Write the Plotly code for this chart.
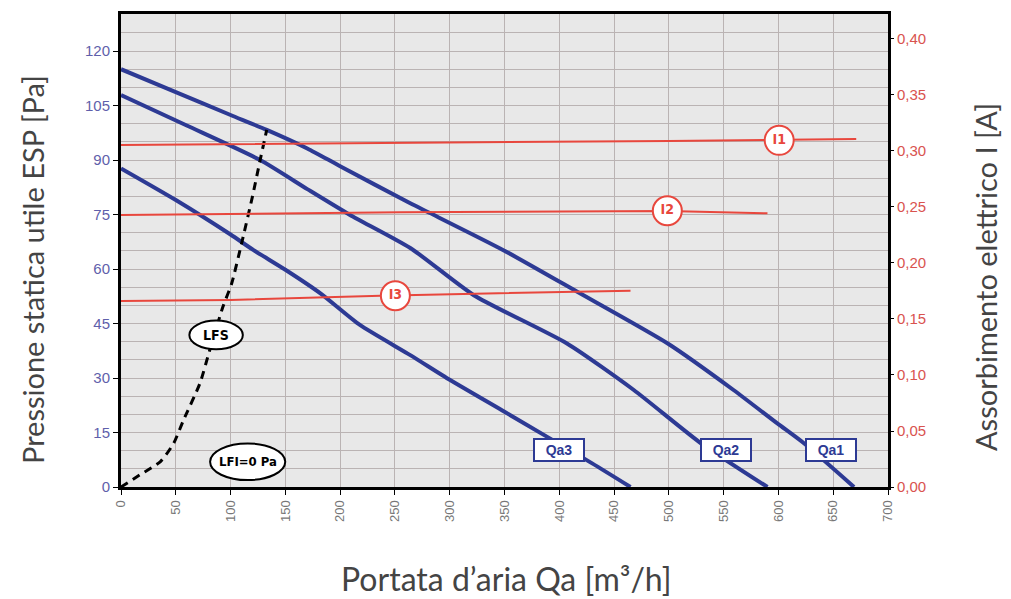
import plotly.graph_objects as go

# ---- data ----
qa1_x = [0, 50, 100, 133, 170, 200, 264, 282, 349, 416, 499, 559, 599, 623, 669]
qa1_y = [115, 108.7, 102.4, 98.3, 93.2, 88.3, 78.1, 75.4, 65.2, 53.8, 39.5, 26.7, 17.5, 12.1, 0]

qa2_x = [0, 60, 127, 170, 209, 264, 322, 407, 468, 529, 590]
qa2_y = [107.9, 99.5, 90, 82, 74.9, 65.8, 52.8, 39.5, 26.7, 12.1, 0]

qa3_x = [0, 50, 100, 121, 150, 182, 218, 264, 300, 350, 389, 430, 465]
qa3_y = [87.7, 79, 69.5, 65.2, 59.8, 53.3, 44.6, 36.3, 29.5, 20.7, 13.8, 6.5, 0]

lfs_x = [0, 17, 36, 48, 57, 72, 81, 93, 101, 110, 120, 127, 133]
lfs_y = [0, 3.3, 7, 12, 18.4, 28.5, 37.7, 49.6, 56, 67, 80, 90, 98.3]

i1_x = [0, 255, 500, 671]
i1_y = [0.3054, 0.307, 0.309, 0.3107]
i2_x = [0, 255, 499, 590]
i2_y = [0.2429, 0.2453, 0.2465, 0.2443]
i3_x = [0, 100, 237, 465]
i3_y = [0.1661, 0.1670, 0.1708, 0.1753]

i_labels = ["I1", "I2", "I3"]
i_label_x = [600.7, 498.6, 250.4]
i_label_y = [0.3095, 0.2466, 0.1708]

qa_labels = ["Qa1", "Qa2", "Qa3"]
qa_label_x = [647.9, 552.4, 399.3]
qa_label_y = [10.2, 10.2, 10.2]

x_ticks = list(range(0, 701, 50))
y_ticks = list(range(0, 121, 15))
y2_ticks = [0, 0.05, 0.10, 0.15, 0.20, 0.25, 0.30, 0.35, 0.40]

BLUE = "#2d3a94"
RED = "#e8473d"
GRID = "#bab3b3"

fig = go.Figure()
for xs, ys in [(qa1_x, qa1_y), (qa2_x, qa2_y), (qa3_x, qa3_y)]:
    fig.add_trace(go.Scatter(x=xs, y=ys, mode="lines", line=dict(color=BLUE, width=4, shape="spline", smoothing=0.6),
                             showlegend=False, hoverinfo="skip"))
fig.add_trace(go.Scatter(x=lfs_x, y=lfs_y, mode="lines", line=dict(color="black", width=3, dash="8px,6px", shape="spline", smoothing=0.6),
                         showlegend=False))
for xs, ys in [(i1_x, i1_y), (i2_x, i2_y), (i3_x, i3_y)]:
    fig.add_trace(go.Scatter(x=xs, y=ys, mode="lines", yaxis="y2", line=dict(color=RED, width=2),
                             showlegend=False))
fig.add_trace(go.Scatter(x=i_label_x, y=i_label_y, mode="markers+text", yaxis="y2",
                         marker=dict(size=29, color="white", line=dict(color=RED, width=2)),
                         text=["<b>%s</b>" % t for t in i_labels], textposition="middle center",
                         textfont=dict(color=RED, size=14, family="Liberation Sans Narrow, DejaVu Sans Condensed, Arial"),
                         showlegend=False))

# ellipse labels
fig.add_shape(type="circle", xref="x", yref="y", x0=62.4, x1=111.2, y0=37.9, y1=45.8,
              line=dict(color="black", width=2), fillcolor="white", layer="above")
fig.add_shape(type="circle", xref="x", yref="y", x0=81.3, x1=149.9, y0=1.9, y1=12.0,
              line=dict(color="black", width=2), fillcolor="white", layer="above")
fig.add_annotation(x=86.8, y=41.9, xref="x", yref="y", text="<b>LFS</b>", showarrow=False,
                   font=dict(size=14, color="black", family="Liberation Sans Narrow, DejaVu Sans Condensed, Arial"))
fig.add_annotation(x=115.6, y=7.0, xref="x", yref="y", text="<b>LFI=0 Pa</b>", showarrow=False,
                   font=dict(size=13, color="black", family="Liberation Sans Narrow, DejaVu Sans Condensed, Arial"))

for t, x, y in zip(qa_labels, qa_label_x, qa_label_y):
    fig.add_annotation(x=x, y=y, xref="x", yref="y", text="<b>%s</b>" % t, showarrow=False,
                       font=dict(size=14, color=BLUE, family="Liberation Sans, Arial"),
                       bgcolor="white", bordercolor=BLUE, borderwidth=2, borderpad=2, width=44)

SIDE_FONT = dict(family="Lato, Open Sans, sans-serif", size=29, color="#444444")
BOTTOM_FONT = dict(family="Lato, Open Sans, sans-serif", size=32, color="#444444")
fig.add_annotation(x=-0.1147, y=0.4588, xref="paper", yref="paper", text="Pressione statica utile ESP [Pa]",
                   textangle=-90, showarrow=False, font=SIDE_FONT, xanchor="center", yanchor="middle")
fig.add_annotation(x=1.1278, y=0.444, xref="paper", yref="paper", text="Assorbimento elettrico I [A]",
                   textangle=-90, showarrow=False, font=SIDE_FONT, xanchor="center", yanchor="middle")
fig.add_annotation(x=0.503, y=-0.1945, xref="paper", yref="paper", text="Portata d’aria Qa [m³/h]",
                   showarrow=False, font=BOTTOM_FONT, xanchor="center", yanchor="middle")

fig.update_layout(
    width=1003, height=591, autosize=False,
    margin=dict(l=113, r=123, t=6, b=112, autoexpand=False),
    paper_bgcolor="white", plot_bgcolor="#e8e8e8",
    separators=",.",
    showlegend=False,
    xaxis=dict(range=[0, 700], tickvals=x_ticks, tickangle=-90, showgrid=True, gridcolor=GRID, gridwidth=1,
               showline=True, linecolor="black", linewidth=3, mirror=True, ticks="outside", ticklen=5,
               tickcolor="black", tickfont=dict(family="Liberation Sans, Arial", size=13, color="#777777"),
               zeroline=False),
    yaxis=dict(range=[0, 130.2], tickvals=y_ticks, showgrid=True, gridcolor=GRID, gridwidth=1,
               minor=dict(dtick=5, showgrid=True, gridcolor=GRID, gridwidth=1),
               showline=True, linecolor="black", linewidth=3, mirror=True, ticks="outside", ticklen=5,
               tickcolor="black", tickfont=dict(family="Liberation Sans, Arial", size=15, color="#5f5fab"),
               zeroline=False),
    yaxis2=dict(range=[0, 0.4223], overlaying="y", side="right", tickvals=y2_ticks, tickformat=".2f",
                showgrid=False, showline=False, ticks="outside", ticklen=5, tickcolor="black",
                tickfont=dict(family="Liberation Sans, Arial", size=15, color="#d9534f"), zeroline=False),
)

fig.write_html("out.html")
